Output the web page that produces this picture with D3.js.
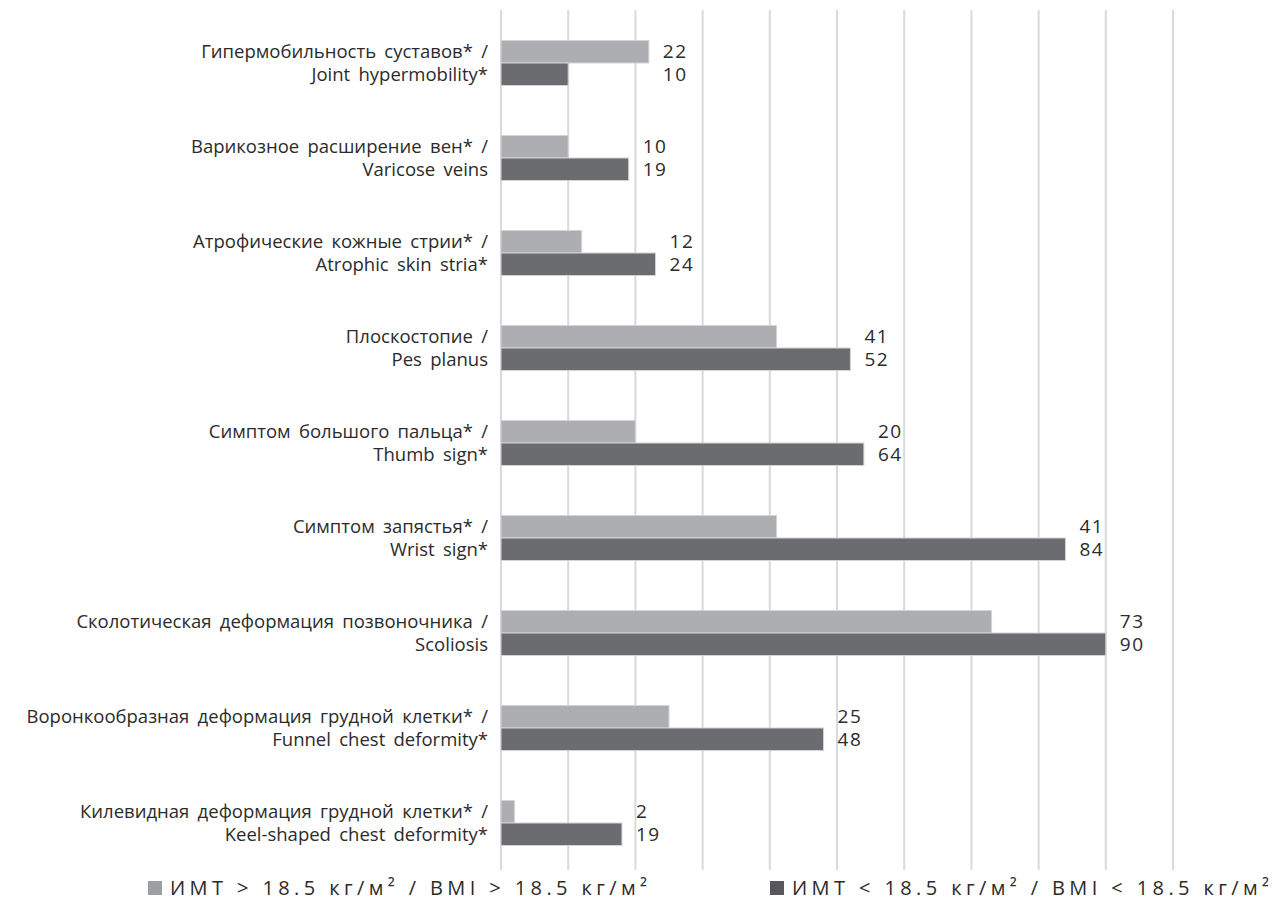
<!DOCTYPE html>
<html>
<head>
<meta charset="utf-8">
<script src="https://cdn.jsdelivr.net/npm/d3@7"></script>
<style>
  body { margin: 0; background: #fff; }
  text { font-family: "Open Sans", "Noto Sans", sans-serif; fill: #2b2b2b; }
  .catLabel { font-size: 18.5px; word-spacing: 3.5px; }
  .valLabel { font-size: 19px; letter-spacing: 1.5px; }
  .legText { font-size: 20px; letter-spacing: 4.4px; }
</style>
</head>
<body>
<div id="chart"></div>
<script>
// categories (ru / en)
var categoriesRu = [
  "Гипермобильность суставов* /",
  "Варикозное расширение вен* /",
  "Атрофические кожные стрии* /",
  "Плоскостопие /",
  "Симптом большого пальца* /",
  "Симптом запястья* /",
  "Сколотическая деформация позвоночника /",
  "Воронкообразная деформация грудной клетки* /",
  "Килевидная деформация грудной клетки* /"
];
var categoriesEn = [
  "Joint hypermobility*",
  "Varicose veins",
  "Atrophic skin stria*",
  "Pes planus",
  "Thumb sign*",
  "Wrist sign*",
  "Scoliosis",
  "Funnel chest deformity*",
  "Keel-shaped chest deformity*"
];

// bar lengths as drawn in the picture
var bmiAbove = [22, 10, 12, 41, 20, 41, 73, 25, 2];
var bmiBelow = [10, 19, 23, 52, 54, 84, 90, 48, 18];
// numbers printed next to the bars
var labelsAbove = ["22", "10", "12", "41", "20", "41", "73", "25", "2"];
var labelsBelow = ["10", "19", "24", "52", "64", "84", "90", "48", "19"];

var seriesNames = ["ИМТ > 18.5 кг/м² / BMI > 18.5 кг/м²", "ИМТ < 18.5 кг/м² / BMI < 18.5 кг/м²"];
var xTicks = [0, 10, 20, 30, 40, 50, 60, 70, 80, 90, 100];

var svgWidth = 1272;
var svgHeight = 909;

var svg = d3.select("#chart")
    .append("svg")
    .attr("width", svgWidth)
    .attr("height", svgHeight);

var xScale = d3.scaleLinear()
    .domain([0, 100])
    .range([501, 1173]);

var yScale = d3.scaleBand()
    .domain(d3.range(categoriesRu.length))
    .range([15.5, 870.5])
    .paddingInner(0.526)
    .paddingOuter(0.263);

var subScale = d3.scaleBand()
    .domain([0, 1])
    .range([0, yScale.bandwidth()]);

var colors = ["#adaeb1", "#6b6c70"];

// gridlines
svg.append("g")
    .selectAll("line")
    .data(xTicks)
    .enter()
    .append("line")
    .attr("x1", d => xScale(d))
    .attr("x2", d => xScale(d))
    .attr("y1", 10)
    .attr("y2", 870)
    .attr("stroke", "#d9d9d9")
    .attr("stroke-width", 2);

var rows = categoriesRu.map(function(c, i) {
  return {
    ru: c,
    en: categoriesEn[i],
    vals: [bmiAbove[i], bmiBelow[i]],
    labels: [labelsAbove[i], labelsBelow[i]]
  };
});

var groups = svg.selectAll(".grp")
    .data(rows)
    .enter()
    .append("g")
    .attr("class", "grp")
    .attr("transform", (d, i) => `translate(0, ${yScale(i)})`);

// bars
groups.selectAll("rect")
    .data(d => d.vals)
    .enter()
    .append("rect")
    .attr("x", xScale(0))
    .attr("y", (d, j) => subScale(j))
    .attr("width", d => xScale(d) - xScale(0))
    .attr("height", subScale.bandwidth())
    .attr("fill", (d, j) => colors[j])
    .attr("stroke", "#d4d4d6")
    .attr("stroke-width", 1);

// category labels, two lines
groups.append("text")
    .attr("class", "catLabel")
    .attr("x", 488)
    .attr("y", subScale(0) + subScale.bandwidth() / 2)
    .attr("dy", "0.35em")
    .attr("text-anchor", "end")
    .text(d => d.ru);

groups.append("text")
    .attr("class", "catLabel")
    .attr("x", 488)
    .attr("y", subScale(1) + subScale.bandwidth() / 2)
    .attr("dy", "0.35em")
    .attr("text-anchor", "end")
    .text(d => d.en);

// value labels
groups.each(function(d) {
  var g = d3.select(this);
  var xMax = xScale(d3.max(d.vals)) + 14;
  d.labels.forEach(function(lab, j) {
    g.append("text")
      .attr("class", "valLabel")
      .attr("x", xMax)
      .attr("y", subScale(j) + subScale.bandwidth() / 2)
      .attr("dy", "0.35em")
      .text(lab);
  });
});

// legend
var legendColors = ["#9d9ea1", "#59595c"];
var legendX = [148, 770];
var legend = svg.selectAll(".leg")
    .data(seriesNames)
    .enter()
    .append("g")
    .attr("class", "leg")
    .attr("transform", (d, i) => `translate(${legendX[i]}, 888)`);

legend.append("rect")
    .attr("x", 0)
    .attr("y", -7)
    .attr("width", 14)
    .attr("height", 14)
    .attr("fill", (d, i) => legendColors[i]);

legend.append("text")
    .attr("class", "legText")
    .attr("x", 22)
    .attr("dy", "0.35em")
    .text(d => d);
</script>
</body>
</html>
